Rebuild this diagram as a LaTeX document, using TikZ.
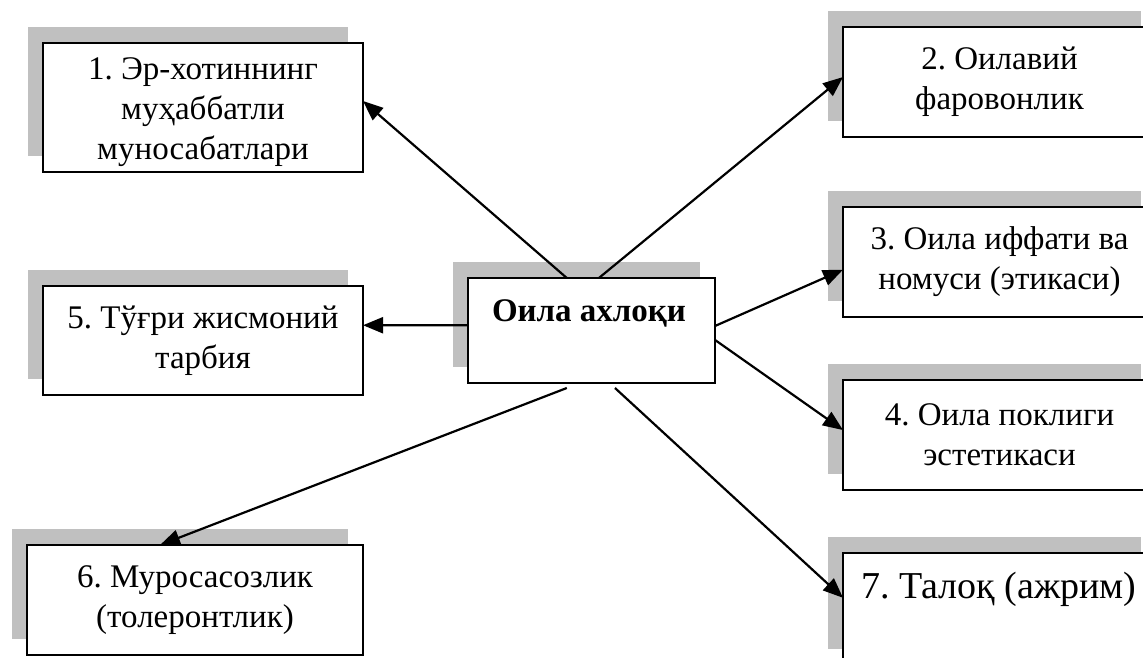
\documentclass[tikz,border=0pt]{standalone}
\usepackage{fontspec}
\setmainfont{Liberation Serif}
\usetikzlibrary{arrows.meta,shadows,calc}
\definecolor{shadowgray}{RGB}{192,192,192}
\frenchspacing
\begin{document}
\begin{tikzpicture}[x=0.5pt,y=-0.5pt,
  box/.style={draw, line width=1pt, fill=white, anchor=north west, inner sep=0pt, outer sep=0pt,
    align=center, font=\fontsize{16.5}{20}\selectfont,
    general shadow={fill=shadowgray, shadow xshift=-7.75pt, shadow yshift=8pt}},
  label/.style={inner sep=0pt, align=center, font=\fontsize{16.5}{20}\selectfont},
  conn/.style={line width=1.1pt, -{Triangle[length=10pt,width=8pt]}},
  ]
\useasboundingbox (0,0) rectangle (1143,657);
\clip (0,0) rectangle (1143,657);
\fill[white] (0,0) rectangle (1143,657);

\node[box, minimum width=160pt, minimum height=64.5pt] (b1) at (43,43) {};
\node[label] (t1) at (203,112) {1. Эр-хотиннинг\\муҳаббатли\\муносабатлари};
\node[box, minimum width=156.5pt, minimum height=55pt] (b2) at (843,27)
  {2. Оилавий\\фаровонлик};
\node[box, minimum width=156.5pt, minimum height=55pt] (b3) at (843,207)
  {3. Оила иффати ва\\номуси (этикаси)};
\node[box, minimum width=156.5pt, minimum height=55pt] (b4) at (843,380)
  {4. Оила поклиги\\эстетикаси};
\node[box, minimum width=160pt, minimum height=54.5pt] (b5) at (43,286)
  {5. Тўғри жисмоний\\тарбия};
\node[box, minimum width=168pt, minimum height=55pt] (b6) at (27,545)
  {6. Муросасозлик\\(толеронтлик)};
\node[box, minimum width=156.5pt, minimum height=56pt] (b7) at (843,553) {};
\node[label, font=\fontsize{19}{23}\selectfont] (t7) at (999,589) {7. Талоқ (ажрим)};
\node[box, minimum width=123.5pt, minimum height=52.5pt] (c) at (468,278) {};
\node[label, font=\fontsize{16.5}{20}\selectfont\bfseries] (ct) at (589,313) {Оила ахлоқи};

\draw[conn] ($(c.north west)!0.40!(c.north east)$) -- ($(b1.north east)!0.45!(b1.south east)$);
\draw[conn] ($(c.north west)!0.53!(c.north east)$) -- ($(b2.north west)!0.455!(b2.south west)$);
\draw[conn] ($(c.north east)!0.457!(c.south east)$) -- ($(b3.north west)!0.57!(b3.south west)$);
\draw[conn] ($(c.north east)!0.59!(c.south east)$) -- ($(b4.north west)!0.455!(b4.south west)$);
\draw[conn] ($(c.north west)!0.45!(c.south west)$) -- ($(b5.north east)!0.36!(b5.south east)$);
\coordinate (s6) at ($(c.south west)!0.40!(c.south east)+(0,5)$);
\coordinate (s7) at ($(c.south west)!0.595!(c.south east)+(0,5)$);
\draw[conn] (s6) -- ($(b6.north west)!0.396!(b6.north east)$);
\draw[conn] (s7) -- ($(b7.north west)!0.4!(b7.south west)$);
\end{tikzpicture}
\end{document}
